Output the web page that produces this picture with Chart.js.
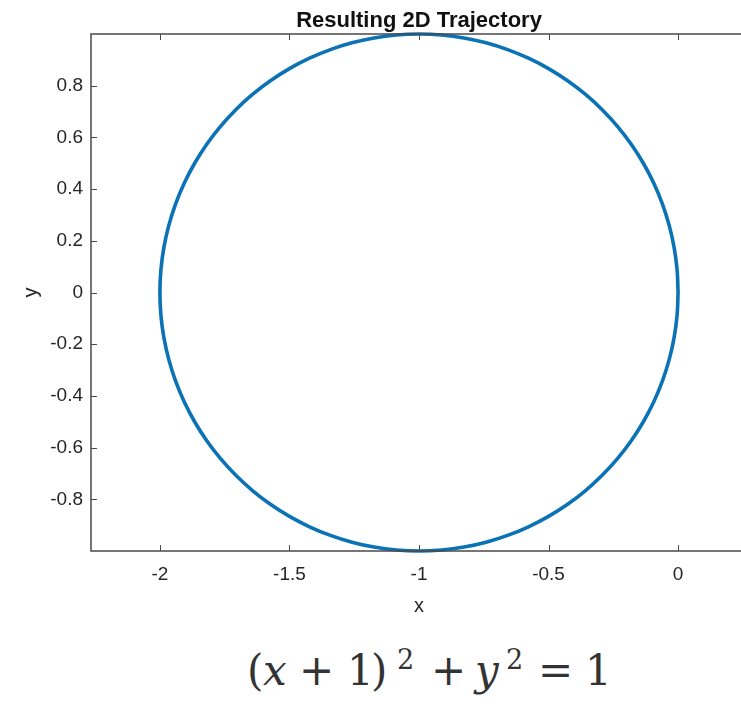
<!DOCTYPE html>
<html>
<head>
<meta charset="utf-8">
<script src="https://cdn.jsdelivr.net/npm/chart.js@4/dist/chart.umd.min.js"></script>
<style>
  html, body { margin: 0; padding: 0; background: #fff; overflow: hidden; width: 741px; height: 705px; }
  #wrap { position: absolute; left: 0; top: 0; width: 770px; height: 640px; }
  #eq {
    position: absolute; left: 247px; top: 650px; height: 56px;
    font-family: "DejaVu Serif", "Liberation Serif", serif; font-size: 42px; line-height: 1;
    color: #333; white-space: nowrap;
  }
  #eq span { position: absolute; top: 0; }
  #eq .sup { font-size: 27px; top: -4px; }
  #eq i { font-style: italic; }
</style>
</head>
<body>
<div id="wrap"><canvas id="c"></canvas></div>
<div id="eq"><span style="left:0px">(</span><span style="left:16px"><i>x</i></span><span style="left:52px">+</span><span style="left:100px">1</span><span style="left:124px">)</span><span class="sup" style="left:150px">2</span><span style="left:184px">+</span><span style="left:228px"><i>y</i></span><span class="sup" style="left:259px">2</span><span style="left:291px">=</span><span style="left:338px">1</span></div>
<script>
// Trajectory samples, every 5 degrees around the path
const trajX = [
  0, -0.0038, -0.0152, -0.0341, -0.0603, -0.0937, -0.1340, -0.1808, -0.2340, -0.2929,
  -0.3572, -0.4264, -0.5, -0.5774, -0.6580, -0.7412, -0.8264, -0.9128, -1,
  -1.0872, -1.1736, -1.2588, -1.3420, -1.4226, -1.5, -1.5736, -1.6428, -1.7071,
  -1.7660, -1.8192, -1.8660, -1.9063, -1.9397, -1.9659, -1.9848, -1.9962, -2,
  -1.9962, -1.9848, -1.9659, -1.9397, -1.9063, -1.8660, -1.8192, -1.7660, -1.7071,
  -1.6428, -1.5736, -1.5, -1.4226, -1.3420, -1.2588, -1.1736, -1.0872, -1,
  -0.9128, -0.8264, -0.7412, -0.6580, -0.5774, -0.5, -0.4264, -0.3572, -0.2929,
  -0.2340, -0.1808, -0.1340, -0.0937, -0.0603, -0.0341, -0.0152, -0.0038, 0
];
const trajY = [
  0, 0.0872, 0.1736, 0.2588, 0.3420, 0.4226, 0.5, 0.5736, 0.6428, 0.7071,
  0.7660, 0.8192, 0.8660, 0.9063, 0.9397, 0.9659, 0.9848, 0.9962, 1,
  0.9962, 0.9848, 0.9659, 0.9397, 0.9063, 0.8660, 0.8192, 0.7660, 0.7071,
  0.6428, 0.5736, 0.5, 0.4226, 0.3420, 0.2588, 0.1736, 0.0872, 0,
  -0.0872, -0.1736, -0.2588, -0.3420, -0.4226, -0.5, -0.5736, -0.6428, -0.7071,
  -0.7660, -0.8192, -0.8660, -0.9063, -0.9397, -0.9659, -0.9848, -0.9962, -1,
  -0.9962, -0.9848, -0.9659, -0.9397, -0.9063, -0.8660, -0.8192, -0.7660, -0.7071,
  -0.6428, -0.5736, -0.5, -0.4226, -0.3420, -0.2588, -0.1736, -0.0872, 0
];

const xTickValues = [-2, -1.5, -1, -0.5, 0];
const xTickLabels = ['-2', '-1.5', '-1', '-0.5', '0'];
const yTickValues = [-0.8, -0.6, -0.4, -0.2, 0, 0.2, 0.4, 0.6, 0.8];
const yTickLabels = ['-0.8', '-0.6', '-0.4', '-0.2', '0', '0.2', '0.4', '0.6', '0.8'];

const xLimits = [-2.266, 0.266];
const yLimits = [-1, 1];

const points = trajX.map((x, i) => ({ x: x, y: trajY[i] }));

const AXIS_COLOR = '#4a4a4a';
const TEXT_COLOR = '#262626';

// Box around the axes with inward tick marks on all four sides
const boxPlugin = {
  id: 'axesBox',
  afterDatasetsDraw(chart) {
    const { ctx, chartArea: a, scales } = chart;
    const tl = 6;
    ctx.save();
    ctx.strokeStyle = AXIS_COLOR;
    ctx.lineWidth = 1.5;
    ctx.beginPath();
    ctx.rect(a.left, a.top, a.right - a.left, a.bottom - a.top);
    ctx.stroke();
    ctx.beginPath();
    xTickValues.forEach(v => {
      const px = Math.round(scales.x.getPixelForValue(v)) + 0.5;
      ctx.moveTo(px, a.bottom); ctx.lineTo(px, a.bottom - tl);
      ctx.moveTo(px, a.top); ctx.lineTo(px, a.top + tl);
    });
    yTickValues.forEach(v => {
      const py = Math.round(scales.y.getPixelForValue(v)) + 0.5;
      ctx.moveTo(a.left, py); ctx.lineTo(a.left + tl, py);
      ctx.moveTo(a.right, py); ctx.lineTo(a.right - tl, py);
    });
    ctx.lineWidth = 1;
    ctx.stroke();
    ctx.restore();
  }
};

new Chart(document.getElementById('c'), {
  type: 'scatter',
  data: {
    datasets: [{
      data: points,
      showLine: true,
      borderColor: '#0a72b5',
      borderWidth: 3.6,
      pointRadius: 0,
      tension: 0.4,
      clip: 6
    }]
  },
  options: {
    responsive: true,
    maintainAspectRatio: false,
    animation: false,
    events: [],
    layout: { padding: { top: 0, left: 0, right: 23, bottom: 0 } },
    plugins: {
      legend: { display: false },
      tooltip: { enabled: false },
      title: {
        display: true,
        fullSize: false,
        text: 'Resulting 2D Trajectory',
        color: '#111',
        font: { family: '"Liberation Sans", Arial, sans-serif', size: 22, weight: 'bold', lineHeight: 1.2 },
        padding: { top: 8, bottom: -0.4 }
      }
    },
    scales: {
      x: {
        type: 'linear',
        min: xLimits[0],
        max: xLimits[1],
        grid: { display: false, drawTicks: false },
        border: { display: false },
        afterBuildTicks: s => { s.ticks = xTickValues.map(v => ({ value: v })); },
        afterFit: s => { s.height = 89; },
        ticks: {
          color: TEXT_COLOR,
          padding: 12,
          maxRotation: 0,
          font: { family: '"Liberation Sans", Arial, sans-serif', size: 19 },
          callback: (v) => xTickLabels[xTickValues.indexOf(v)]
        },
        title: {
          display: true,
          text: 'x',
          color: TEXT_COLOR,
          font: { family: '"Liberation Sans", Arial, sans-serif', size: 20 },
          padding: { top: 0, bottom: 22 }
        }
      },
      y: {
        type: 'linear',
        min: yLimits[0],
        max: yLimits[1],
        grid: { display: false, drawTicks: false },
        border: { display: false },
        afterBuildTicks: s => { s.ticks = yTickValues.map(v => ({ value: v })); },
        afterFit: s => { s.width = 91; },
        ticks: {
          color: TEXT_COLOR,
          padding: 8,
          font: { family: '"Liberation Sans", Arial, sans-serif', size: 19 },
          callback: (v) => yTickLabels[yTickValues.findIndex(t => Math.abs(t - v) < 1e-9)]
        },
        title: {
          display: true,
          text: 'y',
          color: TEXT_COLOR,
          font: { family: '"Liberation Sans", Arial, sans-serif', size: 20 },
          padding: { top: 19, bottom: 0 }
        }
      }
    }
  },
  plugins: [boxPlugin]
});
</script>
</body>
</html>
